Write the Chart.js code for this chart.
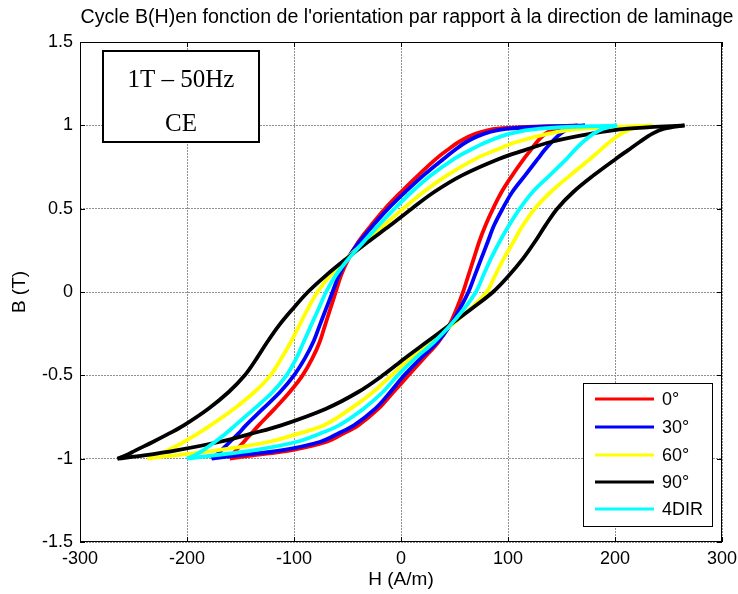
<!DOCTYPE html>
<html><head><meta charset="utf-8">
<script src="https://cdn.jsdelivr.net/npm/chart.js@4"></script>
<style>html,body{margin:0;padding:0;background:#fff}#wrap{width:738px;height:594px;position:relative}</style>
</head><body><div id="wrap"><canvas id="c" width="738" height="594"></canvas></div>
<script>
// ---- text ----
const chartTitle = "Cycle B(H)en fonction de l'orientation par rapport à la direction de laminage";
const xAxisTitle = "H (A/m)";
const yAxisTitle = "B (T)";
const boxLines = ["1T – 50Hz", "CE"];
// ---- ticks ----
const xTickValues = [-300, -200, -100, 0, 100, 200, 300];
const xTickLabels = ["-300", "-200", "-100", "0", "100", "200", "300"];
const yTickValues = [-1.5, -1, -0.5, 0, 0.5, 1, 1.5];
const yTickLabels = ["-1.5", "-1", "-0.5", "0", "0.5", "1", "1.5"];
// ---- series ----
const seriesNames = ["0°", "30°", "60°", "90°", "4DIR"];
const seriesColors = ["#ff0000", "#0000ff", "#ffff00", "#000000", "#00ffff"];
// B levels (T): descending branch (+tip -> -tip) and ascending branch (-tip -> +tip)
const bDescending = [1, 0.98, 0.95, 0.9, 0.85, 0.8, 0.7, 0.6, 0.5, 0.4, 0.3, 0.2, 0.1, 0, -0.1, -0.2, -0.3, -0.4, -0.5, -0.6, -0.7, -0.8, -0.85, -0.9, -0.95, -0.98, -1];
const bAscending = [-1, -0.98, -0.95, -0.9, -0.85, -0.8, -0.7, -0.6, -0.5, -0.4, -0.3, -0.2, -0.1, 0, 0.1, 0.2, 0.3, 0.4, 0.5, 0.6, 0.7, 0.8, 0.85, 0.9, 0.95, 0.98, 1];
// H (A/m) read on each branch at those B levels
const h0Desc  = [165, 90, 70, 54, 43, 33, 16, 0, -15, -28, -40, -49, -56, -61, -66, -71, -76, -83, -92, -104, -118, -133, -140, -147, -154, -158, -160];
const h0Asc   = [-160, -138, -103, -70, -54, -40, -21, -7, 7, 21, 35, 45, 52, 58, 63, 68, 73, 79, 86, 94, 104, 115, 121, 127, 135, 145, 165];
const h30Desc = [172, 100, 78, 61, 50, 40, 21, 4, -12, -26, -39, -50, -58, -64, -70, -76, -82, -90, -100, -113, -129, -145, -152, -160, -168, -173, -177];
const h30Asc  = [-177, -152, -112, -76, -59, -44, -24, -10, 3, 18, 34, 46, 55, 63, 69, 75, 81, 87, 95, 104, 116, 128, 134, 141, 149, 157, 172];
const h60Desc = [235, 170, 138, 108, 88, 70, 43, 21, 2, -16, -34, -51, -66, -78, -87, -95, -103, -112, -122, -137, -156, -178, -190, -203, -218, -228, -237];
const h60Asc  = [-237, -212, -172, -124, -96, -72, -47, -26, -9, 8, 28, 47, 65, 80, 88, 96, 105, 114, 125, 140, 158, 177, 186, 195, 206, 216, 235];
const h90Desc = [265, 212, 178, 140, 115, 92, 57, 31, 10, -10, -31, -51, -70, -87, -101, -114, -125, -135, -146, -161, -180, -203, -217, -232, -248, -257, -265];
const h90Asc  = [-265, -240, -210, -170, -140, -112, -70, -40, -17, 3, 24, 45, 66, 86, 101, 114, 125, 135, 146, 161, 180, 201, 212, 223, 235, 246, 265];
const h4dDesc = [202, 130, 102, 80, 64, 50, 28, 10, -6, -21, -35, -49, -61, -70, -77, -84, -91, -98, -107, -120, -137, -155, -164, -174, -185, -193, -200];
const h4dAsc  = [-200, -175, -138, -98, -76, -58, -35, -17, -3, 13, 31, 46, 59, 70, 77, 84, 92, 101, 111, 123, 139, 155, 162, 170, 180, 189, 202];

const branchH = [[h0Desc, h0Asc], [h30Desc, h30Asc], [h60Desc, h60Asc], [h90Desc, h90Asc], [h4dDesc, h4dAsc]];
// plotted last = on top: 4DIR, then 90°, 60°, 30°, 0°
const stackOrder = [4, 3, 2, 1, 0];

const datasets = [];
branchH.forEach((pair, s) => {
  [[pair[0], bDescending], [pair[1], bAscending]].forEach(([hs, bs]) => {
    datasets.push({
      label: seriesNames[s],
      data: hs.map((h, i) => ({ x: h, y: bs[i] })),
      showLine: true,
      borderColor: seriesColors[s],
      backgroundColor: seriesColors[s],
      borderWidth: 3.8,
      pointRadius: 0,
      tension: 0.35,
      fill: false,
      order: stackOrder[s]
    });
  });
});

const FONT = "'Liberation Sans', Arial, sans-serif";

const deco = {
  id: 'deco',
  beforeDraw(chart) {
    const c = chart.ctx;
    c.save(); c.fillStyle = '#fff'; c.fillRect(0, 0, chart.width, chart.height); c.restore();
  },
  afterDraw(chart) {
    const c = chart.ctx, a = chart.chartArea;
    const xs = chart.scales.x, ys = chart.scales.y;
    c.save();
    // axes box
    c.strokeStyle = '#000'; c.lineWidth = 1;
    c.strokeRect(a.left + 0.5, a.top + 0.5, a.right - a.left - 1, a.bottom - a.top - 1);
    // inner ticks
    c.beginPath();
    xTickValues.forEach(v => {
      const px = Math.round(xs.getPixelForValue(v)) + 0.5;
      c.moveTo(px, a.bottom); c.lineTo(px, a.bottom - 5);
      c.moveTo(px, a.top); c.lineTo(px, a.top + 5);
    });
    yTickValues.forEach(v => {
      const py = Math.round(ys.getPixelForValue(v)) + 0.5;
      c.moveTo(a.left, py); c.lineTo(a.left + 5, py);
      c.moveTo(a.right, py); c.lineTo(a.right - 5, py);
    });
    c.stroke();
    // title
    c.fillStyle = '#000';
    c.font = '19.6px ' + FONT;
    c.textAlign = 'center'; c.textBaseline = 'middle';
    c.fillText(chartTitle, 407, 18);
    // axis titles
    c.font = '19px ' + FONT;
    c.fillText(xAxisTitle, (a.left + a.right) / 2, 580);
    c.save();
    c.translate(20, (a.top + a.bottom) / 2);
    c.rotate(-Math.PI / 2);
    c.fillText(yAxisTitle, 0, 0);
    c.restore();
    // annotation box
    c.fillStyle = '#fff';
    c.fillRect(103, 51, 156, 91);
    c.lineWidth = 2; c.strokeStyle = '#000';
    c.strokeRect(103, 51, 156, 91);
    c.fillStyle = '#000';
    c.font = "25px 'Liberation Serif', 'Times New Roman', serif";
    c.fillText(boxLines[0], 181, 80);
    c.fillText(boxLines[1], 181, 124);
    // legend
    c.fillStyle = '#fff';
    c.fillRect(583, 383, 129, 143);
    c.lineWidth = 1; c.strokeStyle = '#000';
    c.strokeRect(583.5, 383.5, 129, 143);
    c.font = '18px ' + FONT;
    c.textAlign = 'left';
    const rowY = [399, 427, 455, 482, 509];
    seriesNames.forEach((n, i) => {
      c.strokeStyle = seriesColors[i]; c.lineWidth = 3;
      c.beginPath(); c.moveTo(595, rowY[i]); c.lineTo(654, rowY[i]); c.stroke();
      c.fillStyle = '#000';
      c.fillText(n, 662, rowY[i] + 1);
    });
    c.restore();
  }
};

new Chart(document.getElementById('c'), {
  type: 'scatter',
  data: { datasets },
  options: {
    responsive: false,
    animation: false,
    events: [],
    layout: { padding: { top: 42, right: 16, left: 0, bottom: 0 } },
    plugins: { legend: { display: false }, tooltip: { enabled: false }, title: { display: false } },
    scales: {
      x: {
        type: 'linear', min: -300, max: 300,
        afterBuildTicks: s => { s.ticks = xTickValues.map(v => ({ value: v })); },
        afterFit: s => { s.height = 52; s.paddingLeft = 0; s.paddingRight = 0; },
        ticks: {
          callback: (v) => { const i = xTickValues.findIndex(t => Math.abs(t - v) < 1e-6); return i >= 0 ? xTickLabels[i] : ''; },
          font: { family: FONT, size: 18 }, color: '#000', padding: 6, maxRotation: 0, autoSkip: false
        },
        grid: { color: '#8f8f8f', lineWidth: 1, drawTicks: false },
        border: { display: false, dash: [2, 1] }
      },
      y: {
        type: 'linear', min: -1.5, max: 1.5,
        afterBuildTicks: s => { s.ticks = yTickValues.map(v => ({ value: v })); },
        afterFit: s => { s.width = 80; s.paddingTop = 0; s.paddingBottom = 0; },
        ticks: {
          callback: (v) => { const i = yTickValues.findIndex(t => Math.abs(t - v) < 1e-6); return i >= 0 ? yTickLabels[i] : ''; },
          font: { family: FONT, size: 18 }, color: '#000', padding: 7, autoSkip: false
        },
        grid: { color: '#8f8f8f', lineWidth: 1, drawTicks: false },
        border: { display: false, dash: [2, 1] }
      }
    }
  },
  plugins: [deco]
});
</script>
</body></html>
